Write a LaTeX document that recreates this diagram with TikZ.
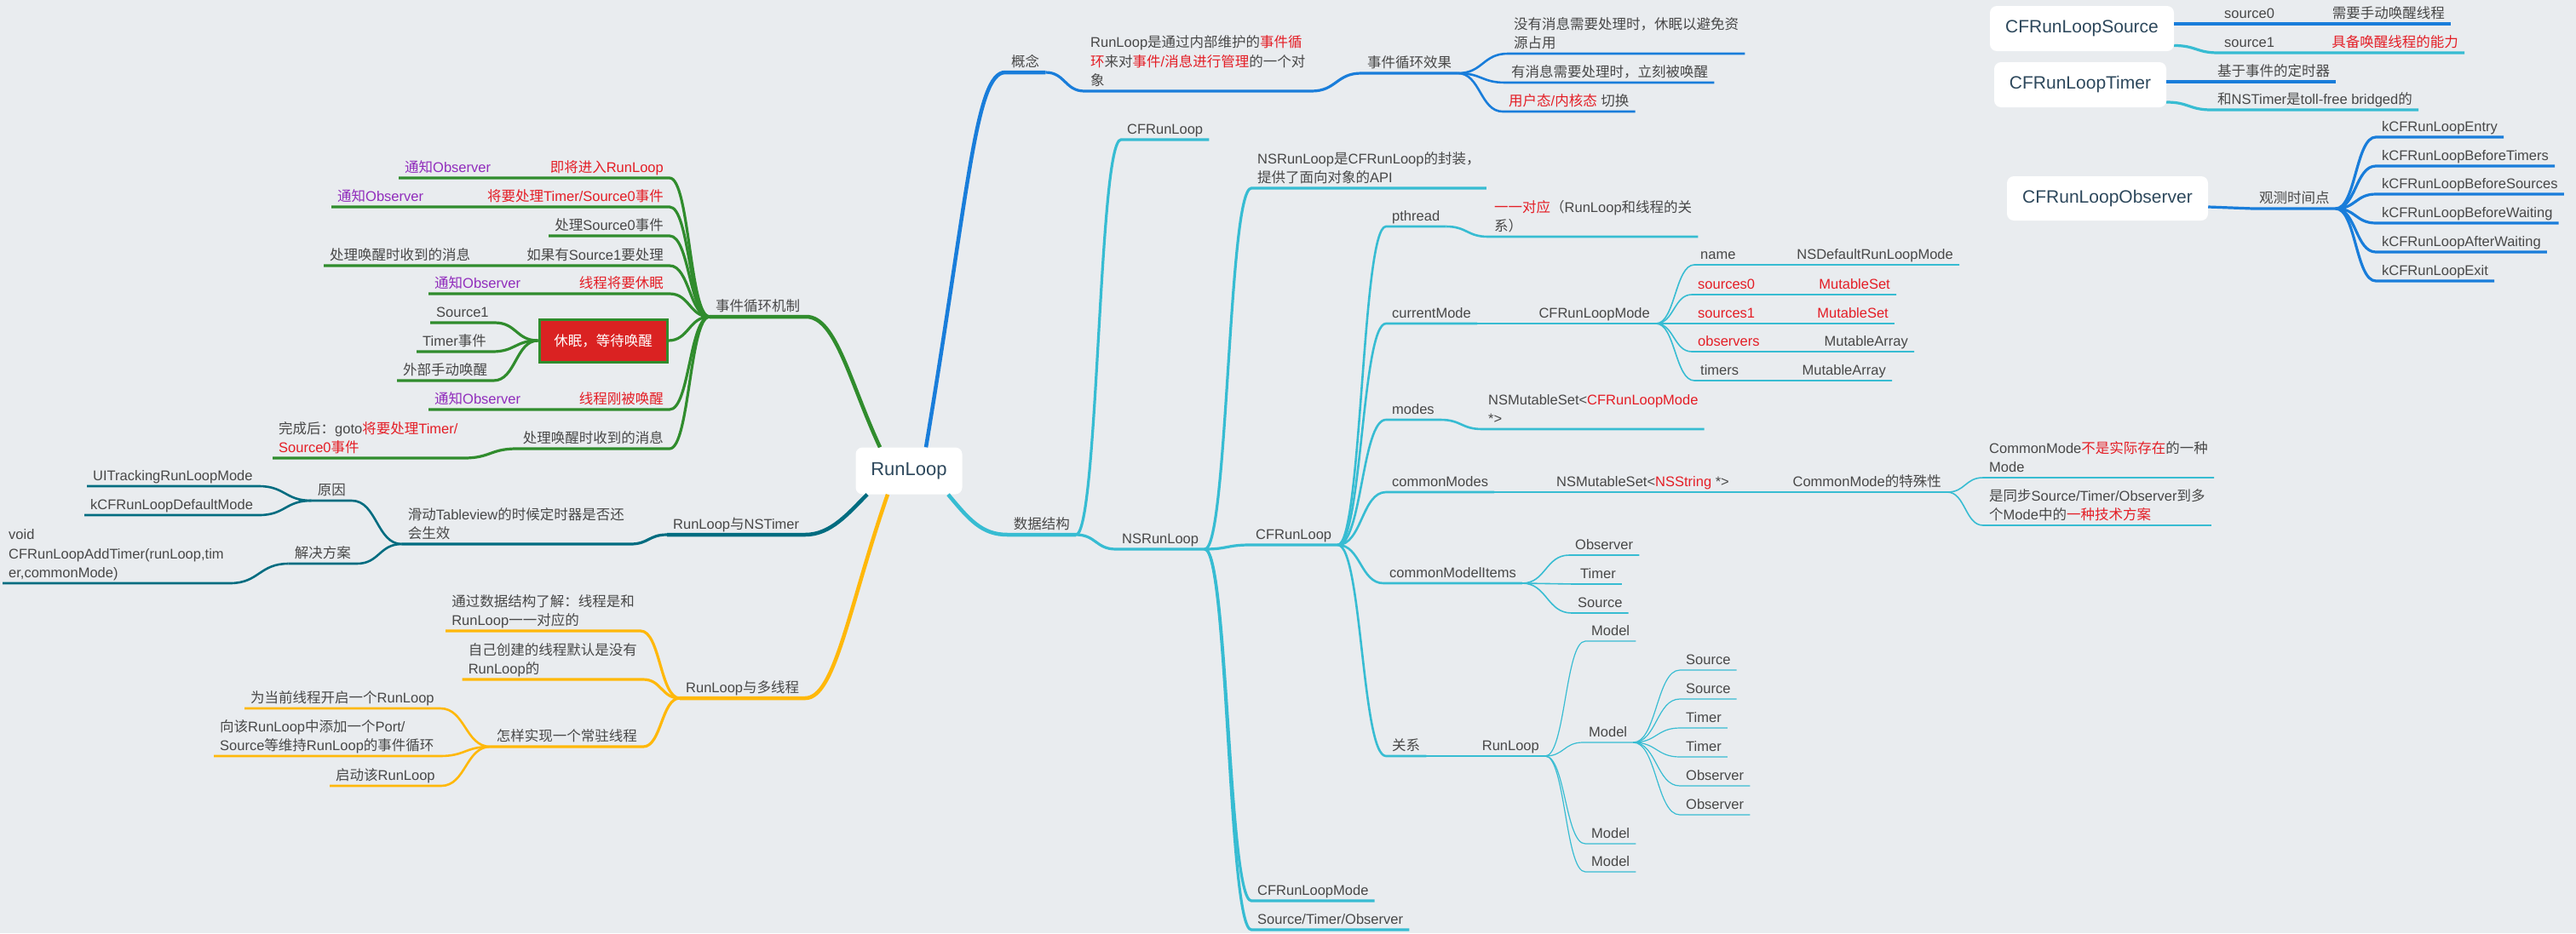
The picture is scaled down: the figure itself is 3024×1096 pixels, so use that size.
\documentclass[tikz,border=0pt]{standalone}
\usepackage{fontspec}
\setmainfont{Liberation Sans}
\newfontfamily\cjkf{Noto Sans CJK SC}
\newfontfamily\latf{Liberation Sans}
\newXeTeXintercharclass\cjkcls
\newcount\cjkn
\def\cjkrange#1#2{\cjkn=#1\relax
  \loop\XeTeXcharclass\cjkn=\cjkcls\relax
  \ifnum\cjkn<#2\relax\advance\cjkn by 1\relax\repeat}
\cjkrange{"3000}{"30FF}
\cjkrange{"4E00}{"9FFF}
\cjkrange{"FF00}{"FFEF}
\XeTeXinterchartoks 0 \cjkcls={\cjkf}
\XeTeXinterchartoks 4095 \cjkcls={\cjkf}
\XeTeXinterchartoks \cjkcls 0={\latf}
\XeTeXinterchartoks 4095 0={\latf}
\XeTeXinterchartokenstate=1
\usetikzlibrary{calc}
\definecolor{bg}{RGB}{233,236,239}
\definecolor{txt}{RGB}{72,72,72}
\definecolor{rd}{RGB}{228,30,38}
\definecolor{pur}{RGB}{145,45,188}
\definecolor{grn}{RGB}{48,140,45}
\definecolor{blu}{RGB}{25,125,218}
\definecolor{cya}{RGB}{55,188,210}
\definecolor{tea}{RGB}{0,108,128}
\definecolor{org}{RGB}{255,184,10}
\definecolor{rootc}{RGB}{45,72,92}
\definecolor{boxr}{RGB}{218,34,34}
\newcommand{\fs}{\fontsize{16.5}{22.5}\selectfont}
\tikzset{
  it/.style={inner xsep=7pt, inner ysep=2.5pt, font=\fs, text=txt, align=left,
    execute at end node={\rule[-3.6pt]{0pt}{0pt}}},
  ra/.style={it, anchor=south west},
  la/.style={it, anchor=south east},
  box/.style={fill=white, rounded corners=8pt, text=rootc},
  sc/.style={to path={let \p1=(\tikztostart), \p2=(\tikztotarget) in
    .. controls ({(\x1+\x2)/2},\y1) and ({(\x1+\x2)/2},\y2) .. (\tikztotarget)}},
  w1/.style={line width=4.5pt}, w2/.style={line width=3.2pt},
  w3/.style={line width=2.6pt}, w4/.style={line width=1.6pt},
  w5/.style={line width=1.2pt},
}
\begin{document}
\begin{tikzpicture}[x=1pt,y=-1pt]
    \useasboundingbox (0,0) rectangle (3024,1096);
    \fill[bg] (0,0) rectangle (3024,1096);

    \node[box, minimum width=125pt, minimum height=55pt, font=\fontsize{22}{26}\selectfont] (rl) at (1067,553) {RunLoop};
    \coordinate (rg) at ([xshift=-34pt]rl.north);
    \coordinate (rb) at ([xshift=20pt]rl.north);
    \coordinate (rt) at ([xshift=-49pt]rl.south);
    \coordinate (ro) at ([xshift=-25pt]rl.south);
    \coordinate (rc) at ([xshift=46pt]rl.south);

    \node[ra] (evl) at (833,372) {事件循环机制};
    \node[la, text=rd] (g1) at (786,209) {即将进入RunLoop};
    \node[ra, text=pur] (g1a) at (468,209) {通知Observer};
    \node[la, text=rd] (g2) at (786,243) {将要处理Timer/Source0事件};
    \node[ra, text=pur] (g2a) at (389,243) {通知Observer};
    \node[la] (g3) at (786,277) {处理Source0事件};
    \node[la] (g4) at (786,312) {如果有Source1要处理};
    \node[ra] (g4a) at (380,312) {处理唤醒时收到的消息};
    \node[la, text=rd] (g5) at (786,345) {线程将要休眠};
    \node[ra, text=pur] (g5a) at (503,345) {通知Observer};
    \node[draw=grn, line width=3pt, fill=boxr, text=white, font=\fs, minimum width=150pt, minimum height=50pt, inner sep=0pt] (slp) at (708,400) {休眠，等待唤醒};
    \node[ra] (b1) at (505,379) {Source1};
    \node[ra] (b2) at (489,413) {Timer事件};
    \node[ra] (b3) at (466,447) {外部手动唤醒};
    \node[la, text=rd] (g7) at (786,481) {线程刚被唤醒};
    \node[ra, text=pur] (g7a) at (503,481) {通知Observer};
    \node[la] (g8) at (786,527) {处理唤醒时收到的消息};
    \node[ra] (g8a) at (320,538) {完成后：goto\textcolor{rd}{将要处理Timer/}\\\textcolor{rd}{Source0事件}};
    \draw[w1,grn] (rg) .. controls +(-35,-75) and +(35,0) .. (evl.south east) -- (evl.south west);
    \draw[w2,grn] (g1a.south west) -- (g1a.south east) -- (g1.south west) -- (g1.south east) to[sc] (evl.south west);
    \draw[w2,grn] (g2a.south west) -- (g2a.south east) -- (g2.south west) -- (g2.south east) to[sc] (evl.south west);
    \draw[w2,grn] (g3.south west) -- (g3.south east) to[sc] (evl.south west);
    \draw[w2,grn] (g4a.south west) -- (g4a.south east) -- (g4.south west) -- (g4.south east) to[sc] (evl.south west);
    \draw[w2,grn] (g5a.south west) -- (g5a.south east) -- (g5.south west) -- (g5.south east) to[sc] (evl.south west);
    \draw[w2,grn] (slp.east) to[sc] (evl.south west);
    \draw[w2,grn] (b1.south west) -- (b1.south east) to[sc] (slp.west);
    \draw[w2,grn] (b2.south west) -- (b2.south east) to[sc] (slp.west);
    \draw[w2,grn] (b3.south west) -- (b3.south east) to[sc] (slp.west);
    \draw[w2,grn] (g7a.south west) -- (g7a.south east) -- (g7.south west) -- (g7.south east) to[sc] (evl.south west);
    \draw[w2,grn] (g8a.south west) -- (g8a.south east) to[sc] (g8.south west) -- (g8.south east) to[sc] (evl.south west);

    \node[ra] (gn) at (1180,85) {概念};
    \node[ra] (gnd) at (1273,107) {RunLoop是通过内部维护的\textcolor{rd}{事件循}\\\textcolor{rd}{环}来对\textcolor{rd}{事件/消息进行管理}的一个对\\象};
    \node[ra] (evf) at (1598,86) {事件循环效果};
    \node[ra] (e1) at (1770,63) {没有消息需要处理时，休眠以避免资\\源占用};
    \node[ra] (e2) at (1767,97) {有消息需要处理时，立刻被唤醒};
    \node[ra] (e3) at (1764,131) {\textcolor{rd}{用户态/内核态} 切换};
    \draw[w1,blu] (rb) .. controls +(50,-300) and +(-35,0) .. (gn.south west) -- (gn.south east);
    \draw[w2,blu] (gn.south east) to[sc] (gnd.south west) -- (gnd.south east) to[sc] (evf.south west) -- (evf.south east);
    \foreach \nd in {e1,e2,e3} \draw[w3,blu] (evf.south east) to[sc] (\nd.south west) -- (\nd.south east);

    \node[ra] (ntm) at (783,628) {RunLoop与NSTimer};
    \node[la] (t1) at (740,639) {滑动Tableview的时候定时器是否还\\会生效};
    \node[la] (t2) at (413,588) {原因};
    \node[ra] (t2a) at (102,571) {UITrackingRunLoopMode};
    \node[ra] (t2b) at (99,605) {kCFRunLoopDefaultMode};
    \node[la] (t3) at (419,662) {解决方案};
    \node[ra] (t3a) at (3,685) {void\\CFRunLoopAddTimer(runLoop,tim\\er,commonMode)};
    \draw[w1,tea] (rt) .. controls +(-22,22) and +(30,0) .. (ntm.south east) -- (ntm.south west);
    \draw[w2,tea] (ntm.south west) to[sc] (t1.south east) -- (t1.south west);
    \foreach \nd in {t2,t3} \draw[w3,tea] (t1.south west) to[sc] (\nd.south east) -- (\nd.south west);
    \foreach \nd in {t2a,t2b} \draw[w3,tea] (t2.south west) to[sc] (\nd.south east) -- (\nd.south west);
    \draw[w3,tea] (t3.south west) to[sc] (t3a.south east) -- (t3a.south west);

    \node[ra] (mt) at (798,820) {RunLoop与多线程};
    \node[la] (o1) at (752,741) {通过数据结构了解：线程是和\\RunLoop一一对应的};
    \node[la] (o2) at (755,798) {自己创建的线程默认是没有\\RunLoop的};
    \node[la] (o3) at (755,877) {怎样实现一个常驻线程};
    \node[ra] (o3a) at (287,832) {为当前线程开启一个RunLoop};
    \node[ra] (o3b) at (251,888) {向该RunLoop中添加一个Port/\\Source等维持RunLoop的事件循环};
    \node[ra] (o3c) at (387,923) {启动该RunLoop};
    \draw[w1,org] (ro) .. controls +(-45,130) and +(35,0) .. (mt.south east) -- (mt.south west);
    \foreach \nd in {o1,o2,o3} \draw[w2,org] (mt.south west) to[sc] (\nd.south east) -- (\nd.south west);
    \foreach \nd in {o3a,o3b,o3c} \draw[w3,org] (o3.south west) to[sc] (\nd.south east) -- (\nd.south west);

    \node[la] (ds) at (1263,628) {数据结构};
    \node[ra] (cf1) at (1316,164) {CFRunLoop};
    \node[ra] (ns) at (1310,645) {NSRunLoop};
    \node[ra] (nsd) at (1469,221) {NSRunLoop是CFRunLoop的封装，\\提供了面向对象的API};
    \node[ra] (cf) at (1467,640) {CFRunLoop};
    \node[ra] (cfm) at (1469,1058) {CFRunLoopMode};
    \node[ra] (sto) at (1469,1092) {Source/Timer/Observer};
    \draw[w1,cya] (rc) .. controls +(25,30) and +(-30,0) .. (ds.south west) -- (ds.south east);
    \foreach \nd in {cf1,ns} \draw[w2,cya] (ds.south east) to[sc] (\nd.south west) -- (\nd.south east);
    \foreach \nd in {nsd,cf,cfm,sto} \draw[w2,cya] (ns.south east) to[sc] (\nd.south west) -- (\nd.south east);

    \node[ra] (pt) at (1627,266) {pthread};
    \node[ra] (pta) at (1747,278) {\textcolor{rd}{一一对应}（RunLoop和线程的关\\系）};
    \node[ra] (cm) at (1627,380) {currentMode};
    \node[la] (cmv) at (1944,380) {CFRunLoopMode};
    \node[ra] (k1) at (1989,311) {name};
    \node[la] (v1) at (2300,311) {NSDefaultRunLoopMode};
    \node[ra, text=rd] (k2) at (1986,346) {sources0};
    \node[la, text=rd] (v2) at (2226,346) {MutableSet};
    \node[ra, text=rd] (k3) at (1986,380) {sources1};
    \node[la, text=rd] (v3) at (2224,380) {MutableSet};
    \node[ra, text=rd] (k4) at (1986,413) {observers};
    \node[la] (v4) at (2247,413) {MutableArray};
    \node[ra] (k5) at (1989,447) {timers};
    \node[la] (v5) at (2221,447) {MutableArray};
    \node[ra] (md) at (1627,493) {modes};
    \node[ra] (mdv) at (1740,504) {NSMutableSet<\textcolor{rd}{CFRunLoopMode}\\*>};
    \node[ra] (cms) at (1627,578) {commonModes};
    \node[la] (cmsv) at (2037,578) {NSMutableSet<\textcolor{rd}{NSString} *>};
    \node[la] (cmsp) at (2286,578) {CommonMode的特殊性};
    \node[ra] (cp1) at (2328,561) {CommonMode\textcolor{rd}{不是实际存在}的一种\\Mode};
    \node[ra] (cp2) at (2328,617) {是同步Source/Timer/Observer到多\\个Mode中的\textcolor{rd}{一种技术方案}};
    \node[ra] (ci) at (1624,685) {commonModelItems};
    \node[ra] (ci1) at (1842,652) {Observer};
    \node[ra] (ci2) at (1848,686) {Timer};
    \node[ra] (ci3) at (1845,720) {Source};
    \node[ra] (rel) at (1627,888) {关系};
    \node[la] (relr) at (1814,888) {RunLoop};
    \node[ra] (m1) at (1861,753) {Model};
    \node[ra] (m2) at (1858,872) {Model};
    \node[ra] (m3) at (1861,991) {Model};
    \node[ra] (m4) at (1861,1024) {Model};
    \foreach \nd in {pt,cm,md,cms,ci,rel} \draw[w3,cya] (cf.south east) to[sc] (\nd.south west) -- (\nd.south east);
    \draw[w3,cya] (pt.south east) to[sc] (pta.south west) -- (pta.south east);
    \draw[w3,cya] (cm.south east) -- (cmv.south west) -- (cmv.south east);
    \foreach \i in {1,...,5} \draw[w4,cya] (cmv.south east) to[sc] (k\i.south west) -- (k\i.south east) -- (v\i.south west) -- (v\i.south east);
    \draw[w3,cya] (md.south east) to[sc] (mdv.south west) -- (mdv.south east);
    \draw[w3,cya] (cms.south east) -- (cmsv.south west) -- (cmsv.south east);
    \draw[w4,cya] (cmsv.south east) -- (cmsp.south west) -- (cmsp.south east);
    \foreach \nd in {cp1,cp2} \draw[w4,cya] (cmsp.south east) to[sc] (\nd.south west) -- (\nd.south east);
    \foreach \nd in {ci1,ci2,ci3} \draw[w4,cya] (ci.south east) to[sc] (\nd.south west) -- (\nd.south east);
    \draw[w3,cya] (rel.south east) -- (relr.south west) -- (relr.south east);
    \foreach \nd in {m1,m2,m3,m4} \draw[w5,cya] (relr.south east) to[sc] (\nd.south west) -- (\nd.south east);
    \foreach \nd/\lbl/\yy in {q1/Source/787,q2/Source/821,q3/Timer/855,q4/Timer/889,q5/Observer/923,q6/Observer/957}{
        \node[ra] (\nd) at (1972,\yy) {\lbl};
        \draw[w5,cya] (m2.south east) to[sc] (\nd.south west) -- (\nd.south east);
    }

    \node[box, minimum width=216pt, minimum height=53pt, font=\fontsize{21}{25}\selectfont] (src) at (2444,33.5) {CFRunLoopSource};
    \node[box, minimum width=202pt, minimum height=53pt, font=\fontsize{21}{25}\selectfont] (tmr) at (2442,99.5) {CFRunLoopTimer};
    \node[box, minimum width=236pt, minimum height=52pt, font=\fontsize{21}{25}\selectfont] (obs) at (2474,233) {CFRunLoopObserver};
    \coordinate (srca) at ([yshift=5.5pt]src.east);
    \coordinate (srcb) at ([yshift=-20pt]src.east);
    \coordinate (tmra) at ([yshift=3.5pt]tmr.east);
    \coordinate (tmrb) at ([yshift=-20.5pt]tmr.east);
    \coordinate (obsa) at ([yshift=-10pt]obs.east);
    \node[ra] (s0) at (2604,28) {source0};
    \node[la] (s0v) at (2877,28) {需要手动唤醒线程};
    \node[ra] (s1) at (2604,62) {source1};
    \node[la, text=rd] (s1v) at (2893,62) {具备唤醒线程的能力};
    \node[ra] (tm0) at (2596,96) {基于事件的定时器};
    \node[ra] (tm1) at (2596,129) {和NSTimer是toll-free bridged的};
    \node[ra] (ot) at (2645,245) {观测时间点};
    \draw[w2,blu] (srca) -- (s0.south west) -- (s0.south east) -- (s0v.south west) -- (s0v.south east);
    \draw[w2,cya] (srcb) to[sc] (s1.south west) -- (s1.south east) -- (s1v.south west) -- (s1v.south east);
    \draw[w2,blu] (tmra) -- (tm0.south west) -- (tm0.south east);
    \draw[w2,cya] (tmrb) to[sc] (tm1.south west) -- (tm1.south east);
    \draw[w2,blu] (obsa) -- (ot.south west) -- (ot.south east);
    \foreach \nd/\lbl/\yy in {ob1/kCFRunLoopEntry/161,ob2/kCFRunLoopBeforeTimers/195,ob3/kCFRunLoopBeforeSources/228,ob4/kCFRunLoopBeforeWaiting/262,ob5/kCFRunLoopAfterWaiting/296,ob6/kCFRunLoopExit/330}{
        \node[ra] (\nd) at (2789,\yy) {\lbl};
        \draw[w2,blu] (ot.south east) to[sc] (\nd.south west) -- (\nd.south east);
    }
\end{tikzpicture}
\end{document}
